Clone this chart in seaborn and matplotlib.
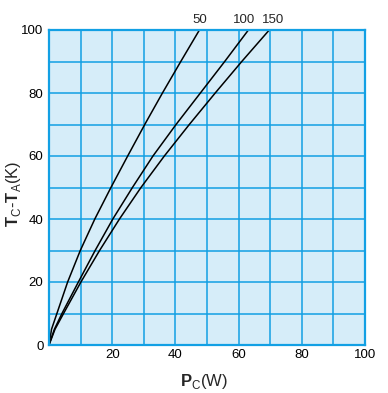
import matplotlib
matplotlib.use("Agg")
import matplotlib.pyplot as plt
import seaborn as sns
import pandas as pd

# Data (x = Pc in W, y = Tc-TA in K)
temps = [0, 5, 10, 20, 30, 40, 50, 60, 70, 80, 90, 100]
pc_50 = [0, 0.8, 2.5, 5.9, 9.9, 14.5, 19.6, 24.9, 30.3, 35.9, 41.7, 47.6]
pc_100 = [0, 1.7, 4.1, 9.3, 14.6, 20.2, 26.4, 32.9, 40.2, 47.9, 55.6, 63.1]
pc_150 = [0, 1.9, 4.6, 10.1, 16.0, 22.3, 29.1, 36.5, 44.4, 52.6, 61.0, 69.7]
series_names = ["50", "100", "150"]
x_ticks = [20, 40, 60, 80, 100]
y_ticks = [0, 20, 40, 60, 80, 100]

rows = []
for name, xs in zip(series_names, [pc_50, pc_100, pc_150]):
    for x, y in zip(xs, temps):
        rows.append({"series": name, "Pc": x, "dT": y})
df = pd.DataFrame(rows)

grid_col = "#12a0e4"
bg_col = "#d6edf9"

sns.set_theme(style="whitegrid", rc={
    "axes.facecolor": bg_col,
    "grid.color": grid_col,
    "axes.edgecolor": grid_col,
    "grid.linewidth": 1.1,
})
plt.rcParams["font.family"] = ["Liberation Sans", "DejaVu Sans"]
plt.rcParams["mathtext.fontset"] = "custom"
plt.rcParams["mathtext.rm"] = "Liberation Sans"
plt.rcParams["mathtext.bf"] = "Liberation Sans:bold"

fig = plt.figure(figsize=(3.88, 3.93), dpi=100)
ax = fig.add_axes([49 / 388, 48 / 393, 316 / 388, 315 / 393])

sns.lineplot(data=df, x="Pc", y="dT", hue="series", sort=False,
             palette=["black"] * 3, linewidth=1.1, legend=False, ax=ax,
             estimator=None)

ax.set_xlim(0, 100)
ax.set_ylim(0, 100)
ax.set_xticks(range(0, 101, 10))
ax.set_yticks(range(0, 101, 10))
ax.set_xticklabels([str(v) if v in x_ticks else "" for v in range(0, 101, 10)])
ax.set_yticklabels([str(v) if v in y_ticks else "" for v in range(0, 101, 10)])
ax.tick_params(axis="both", length=0, labelsize=9.5, colors="black")
ax.tick_params(axis="x", pad=3)
ax.tick_params(axis="y", pad=4)
for s in ax.spines.values():
    s.set_linewidth(1.6)
    s.set_color(grid_col)
ax.grid(True, color=grid_col, linewidth=1.1)

ax.set_xlabel(r"$\mathbf{P}_{\mathrm{C}}$(W)", fontsize=12, labelpad=6)
ax.xaxis.set_label_coords(0.49, -0.085)
ax.set_ylabel(r"$\mathbf{T}_{\mathrm{C}}$-$\mathbf{T}_{\mathrm{A}}$(K)", fontsize=12,
              va="center")
ax.yaxis.set_label_coords(-0.112, 0.48)

offsets = {"50": 0, "100": -3, "150": 3}
for name, xs in zip(series_names, [pc_50, pc_100, pc_150]):
    ax.annotate(name, xy=(xs[-1], temps[-1]), xytext=(offsets[name], 3),
                textcoords="offset points", ha="center", va="bottom",
                fontsize=9.5, annotation_clip=False)

fig.savefig("out.png", dpi=100)
